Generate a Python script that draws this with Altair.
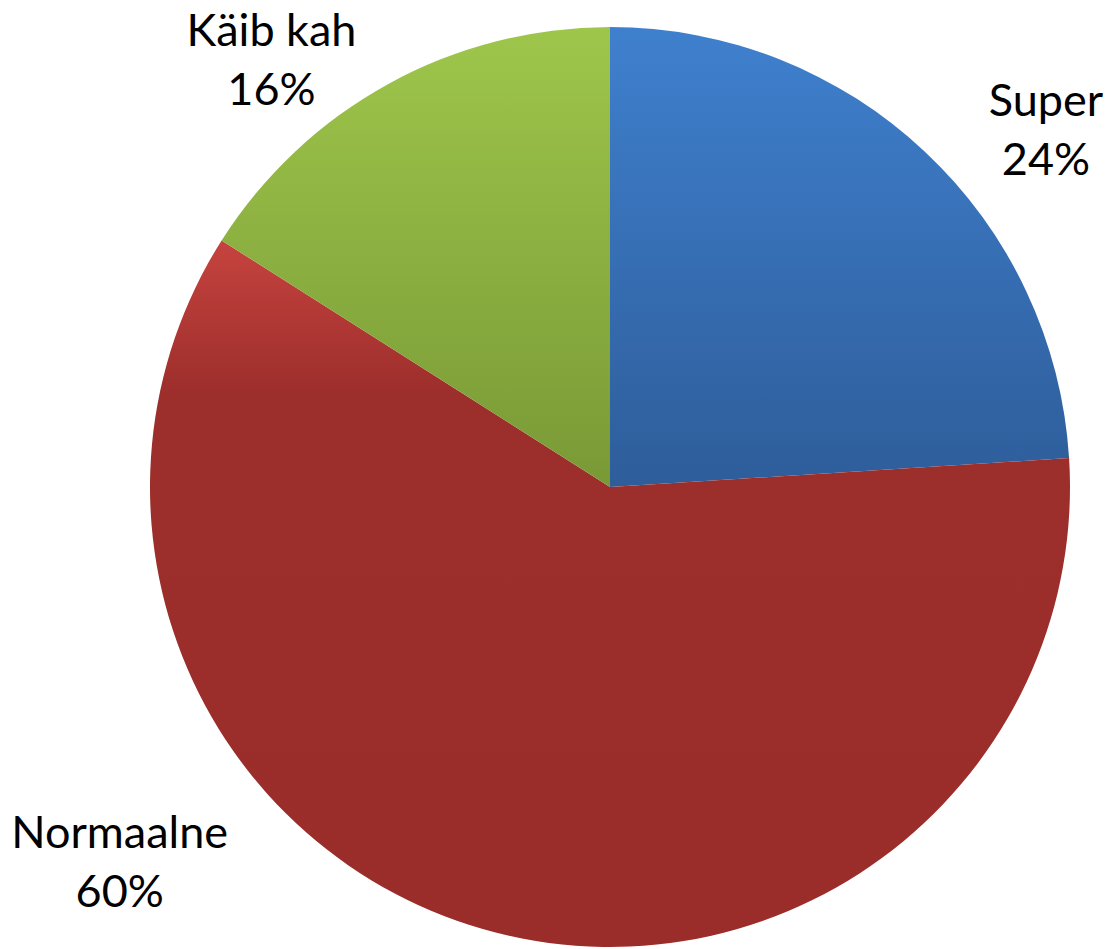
import altair as alt
import pandas as pd

categories = ["Super", "Normaalne", "Käib kah"]
values = [24, 60, 16]
order = [0, 1, 2]

df = pd.DataFrame({"category": categories, "value": values, "order": order})

# per-slice gradient fills (style)
fills = {
    "Super": {"gradient": "linear", "x1": 0, "y1": 0, "x2": 0, "y2": 1,
              "stops": [{"offset": 0, "color": "#3F80CE"}, {"offset": 1, "color": "#2E5D9A"}]},
    "Normaalne": {"gradient": "linear", "x1": 0, "y1": 0, "x2": 0, "y2": 1,
                  "stops": [{"offset": 0, "color": "#C6433F"}, {"offset": 0.22, "color": "#9C2E2B"},
                            {"offset": 1, "color": "#9A2C2A"}]},
    "Käib kah": {"gradient": "linear", "x1": 0, "y1": 0, "x2": 0, "y2": 1,
                 "stops": [{"offset": 0, "color": "#9EC64B"}, {"offset": 1, "color": "#799936"}]},
}
label_offsets = {"Super": (80, -6), "Normaalne": (-361, -157), "Käib kah": (-88, 1)}

CX, CY, R = 602, 479, 460

base = (
    alt.Chart(df)
    .transform_window(cum="sum(value)", sort=[alt.SortField("order")], frame=[None, 0])
    .transform_calculate(start="datum.cum - datum.value",
                         mid="datum.cum - datum.value / 2",
                         label="datum.category + '\\n' + datum.value + '%'")
)

theta_scale = alt.Scale(domain=[0, 100])
layers = []
for c in categories:
    layers.append(
        base.transform_filter(alt.datum.category == c)
        .mark_arc(radius=R, x=CX, y=CY, fill=fills[c], stroke=None)
        .encode(theta=alt.Theta("start:Q", scale=theta_scale), theta2="cum:Q")
    )
for c in categories:
    dx, dy = label_offsets[c]
    layers.append(
        base.transform_filter(alt.datum.category == c)
        .mark_text(x=CX, y=CY, radius=520, dx=dx, dy=dy, font="Lato", fontSize=45,
                   lineHeight=59, lineBreak="\n", color="#000000",
                   align="center", baseline="middle")
        .encode(theta=alt.Theta("mid:Q", scale=theta_scale), text="label:N")
    )

chart = (
    alt.layer(*layers)
    .properties(width=1096, height=941, padding=0, autosize=alt.AutoSizeParams(type="none"))
    .configure_view(stroke=None)
    .configure(background="#FFFFFF")
)

chart.save("out.html", embed_options={"renderer": "svg", "actions": False})
